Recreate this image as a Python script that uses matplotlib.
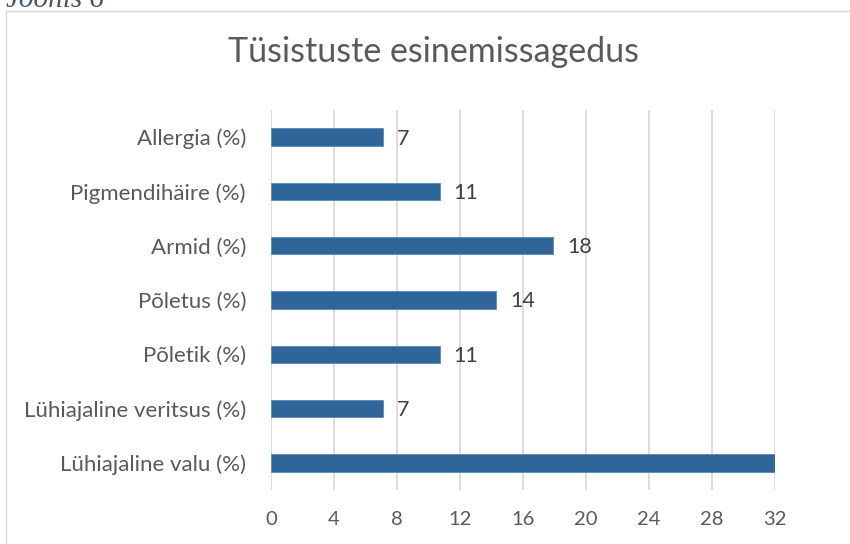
import matplotlib
matplotlib.use("Agg")
import matplotlib.pyplot as plt
from matplotlib.patches import Rectangle

categories = ["Lühiajaline valu (%)", "Lühiajaline veritsus (%)", "Põletik (%)",
              "Põletus (%)", "Armid (%)", "Pigmendihäire (%)", "Allergia (%)"]
values = [32.1, 7.1, 10.7, 14.3, 17.9, 10.7, 7.1]
xticks = [0, 4, 8, 12, 16, 20, 24, 28, 32]
title = "Tüsistuste esinemissagedus"

plt.rcParams['font.family'] = ['Lato', 'DejaVu Sans']
txt = '#595959'

fig = plt.figure(figsize=(8.5, 5.44), dpi=100)
fig.patches.append(Rectangle((6/850, -0.1), 2.0, 1 - 11/544 + 0.1, transform=fig.transFigure,
                             fill=False, edgecolor='#D9D9D9', linewidth=1.0))
fig.text(6/850, 1 + 13/544, "Joonis 6", fontsize=21, style='italic',
         family=['Liberation Serif'], color='#44546A', ha='left', va='top')

ax = fig.add_axes([271/850, 1 - 490/544, 504/850, 380/544])
y = list(range(len(categories)))
ax.barh(y, values, height=0.32, color='#30659A', edgecolor='#5B86B3', linewidth=0.6, zorder=3)
for yi, v in zip(y, values):
    ax.annotate(f"{v:.0f}", (v, yi), xytext=(10, -1), textcoords='offset points',
                ha='left', va='center', fontsize=15.5, color='#404040')

ax.set_xlim(0, 32)
ax.set_ylim(-0.5, len(categories) - 0.5)
ax.set_xticks(xticks)
ax.set_yticks(y)
ax.set_yticklabels(categories)
ax.tick_params(axis='both', length=0, colors=txt)
ax.tick_params(axis='x', pad=15, labelsize=14.5)
ax.tick_params(axis='y', pad=18, labelsize=16)
ax.grid(axis='x', color='#D9D9D9', linewidth=1.3, zorder=0)
for s in ax.spines.values():
    s.set_visible(False)

fig.text(433/850, 1 - 52/544, title, fontsize=24.5, color=txt, ha='center', va='center')

fig.savefig("out.png", dpi=100)
